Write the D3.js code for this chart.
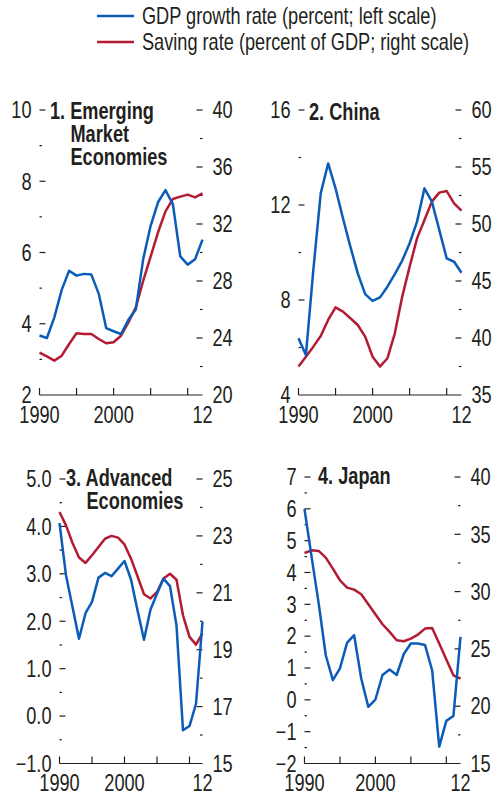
<!DOCTYPE html>
<html>
<head>
<meta charset="utf-8">
<script src="https://cdn.jsdelivr.net/npm/d3@7"></script>
<style>
  body { margin: 0; background: #fff; }
  svg { display: block; font-family: "Liberation Sans", Arial, sans-serif; }
</style>
</head>
<body>
<svg id="chart" width="496" height="799"></svg>
<script>
const years = [1990, 1991, 1992, 1993, 1994, 1995, 1996, 1997, 1998, 1999, 2000, 2001,
  2002, 2003, 2004, 2005, 2006, 2007, 2008, 2009, 2010, 2011, 2012];

// GDP growth (left scale) and saving rate (right scale)
const emGdp = [3.67, 3.60, 4.18, 4.95, 5.49, 5.35, 5.40, 5.38, 4.84, 3.88, 3.79, 3.71,
  4.11, 4.40, 5.82, 6.75, 7.41, 7.75, 7.36, 5.89, 5.66, 5.81, 6.36];
const emSaving = [22.97, 22.71, 22.41, 22.76, 23.58, 24.33, 24.28, 24.28, 23.93, 23.63, 23.70, 24.16,
  25.10, 26.15, 28.02, 29.71, 31.42, 32.89, 33.75, 33.92, 34.06, 33.87, 34.15];

const chinaGdp = [6.39, 5.68, 9.26, 12.49, 13.75, 12.70, 11.44, 10.25, 9.12, 8.25, 7.96, 8.11,
  8.56, 9.09, 9.66, 10.39, 11.30, 12.70, 12.14, 10.95, 9.75, 9.61, 9.15];
const chinaSaving = [37.49, 38.36, 39.24, 40.18, 41.58, 42.69, 42.31, 41.73, 41.14, 40.12, 38.36, 37.49,
  38.22, 40.41, 43.63, 46.26, 48.74, 50.35, 51.96, 52.75, 52.89, 51.81, 51.17];

const advGdp = [4.07, 2.97, 2.30, 1.63, 2.17, 2.41, 2.92, 3.02, 2.95, 3.11, 3.27, 2.88,
  2.23, 1.61, 2.25, 2.58, 2.90, 2.74, 1.91, -0.30, -0.21, 0.26, 1.99];
const advSaving = [23.84, 23.37, 22.75, 22.24, 22.05, 22.32, 22.61, 22.90, 23.00, 22.94, 22.70, 22.20,
  21.58, 20.95, 20.80, 21.03, 21.50, 21.67, 21.46, 20.21, 19.45, 19.18, 19.57];

const japanGdp = [5.99, 4.49, 3.03, 1.40, 0.62, 0.99, 1.79, 2.03, 0.67, -0.22, 0.01, 0.78,
  0.95, 0.78, 1.44, 1.77, 1.77, 1.72, 0.93, -1.47, -0.66, -0.51, 1.98];
const japanSaving = [33.37, 33.60, 33.55, 32.97, 32.01, 30.99, 30.35, 30.17, 29.77, 28.90, 28.02, 27.15,
  26.48, 25.76, 25.67, 25.90, 26.25, 26.77, 26.83, 25.47, 24.07, 22.70, 22.41];

// tick values
const xTicks = [1990, 1995, 2000, 2005, 2010];
const xLabels = [[1990, '1990'], [2000, '2000'], [2012, '12']];

const emLeft = [2, 4, 6, 8, 10], emLeftMinor = [3, 5, 7, 9];
const emRight = [20, 24, 28, 32, 36, 40], emRightMinor = [22, 26, 30, 34, 38];
const chinaLeft = [4, 8, 12, 16], chinaLeftMinor = [6, 10, 14];
const chinaRight = [35, 40, 45, 50, 55, 60], chinaRightMinor = [37.5, 42.5, 47.5, 52.5, 57.5];
const advLeft = [-1, 0, 1, 2, 3, 4, 5], advLeftMinor = [-0.5, 0.5, 1.5, 2.5, 3.5, 4.5];
const advRight = [15, 17, 19, 21, 23, 25], advRightMinor = [16, 18, 20, 22, 24];
const japanLeft = [-2, -1, 0, 1, 2, 3, 4, 5, 6, 7], japanLeftMinor = [-1.5, -0.5, 0.5, 1.5, 2.5, 3.5, 4.5, 5.5, 6.5];
const japanRight = [15, 20, 25, 30, 35, 40], japanRightMinor = [17.5, 22.5, 27.5, 32.5, 37.5];

const legendItems = ['GDP growth rate (percent; left scale)', 'Saving rate (percent of GDP; right scale)'];

const BLUE = '#0b5cb8';
const RED = '#b31b34';
const INK = '#231f20';
const FS = '23px';
const NARROW = 0.79;   // no condensed face installed, so squeeze Liberation Sans

const minus = s => s.replace('-', '\u2013');
const fmtInt = d => minus(d3.format('d')(d));
const fmt1 = d => minus(d3.format('.1f')(d));

// horizontal squeeze around each text's own anchor point
function squeeze(sel) {
  sel.each(function () {
    const t = d3.select(this);
    const x = +t.attr('x'), y = +t.attr('y');
    t.attr('transform', `translate(${x},${y}) scale(${NARROW},1) translate(${-x},${-y})`);
  });
}

const panels = [
  { title: ['1. Emerging', 'Market', 'Economies'], gdp: emGdp, saving: emSaving,
    left: emLeft, leftMinor: emLeftMinor, right: emRight, rightMinor: emRightMinor, fmt: fmtInt,
    x0: 39.5, x1: 202.5, y0: 110, y1: 395, tx: 50, ty: 119 },
  { title: ['2. China'], gdp: chinaGdp, saving: chinaSaving,
    left: chinaLeft, leftMinor: chinaLeftMinor, right: chinaRight, rightMinor: chinaRightMinor, fmt: fmtInt,
    x0: 298.5, x1: 461.5, y0: 110, y1: 395, tx: 309, ty: 120 },
  { title: ['3. Advanced', 'Economies'], gdp: advGdp, saving: advSaving,
    left: advLeft, leftMinor: advLeftMinor, right: advRight, rightMinor: advRightMinor, fmt: fmt1,
    x0: 59.5, x1: 202.5, y0: 479, y1: 763.5, tx: 66, ty: 486 },
  { title: ['4. Japan'], gdp: japanGdp, saving: japanSaving,
    left: japanLeft, leftMinor: japanLeftMinor, right: japanRight, rightMinor: japanRightMinor, fmt: fmtInt,
    x0: 304.5, x1: 460.5, y0: 477, y1: 763.5, tx: 318, ty: 484 }
];

const svg = d3.select('#chart');

// Legend
const legend = svg.append('g');
legendItems.forEach((label, i) => {
  const y = 16 + i * 26;
  legend.append('line')
    .attr('x1', 97).attr('x2', 134).attr('y1', y).attr('y2', y)
    .attr('stroke', i === 0 ? BLUE : RED).attr('stroke-width', 2.5);
  legend.append('text')
    .attr('x', 142).attr('y', y).attr('dy', '0.36em')
    .style('font-size', FS).style('fill', INK)
    .text(label)
    .call(squeeze);
});

panels.forEach(p => {
  const g = svg.append('g');

  const x = d3.scaleLinear().domain([1990, 2012]).range([p.x0, p.x1]);
  const yL = d3.scaleLinear().domain(d3.extent(p.left)).range([p.y1, p.y0]);
  const yR = d3.scaleLinear().domain(d3.extent(p.right)).range([p.y1, p.y0]);

  // bottom axis: baseline with upward ticks
  g.append('line')
    .attr('x1', p.x0).attr('x2', p.x1).attr('y1', p.y1).attr('y2', p.y1)
    .attr('stroke', INK).attr('stroke-width', 1.2);
  g.selectAll('.xtick').data(xTicks).enter().append('line')
    .attr('x1', d => x(d)).attr('x2', d => x(d))
    .attr('y1', p.y1).attr('y2', p.y1 - 7)
    .attr('stroke', INK).attr('stroke-width', 1.2);
  g.selectAll('.xlab').data(xLabels).enter().append('text')
    .attr('x', d => x(d[0])).attr('y', p.y1 + 28)
    .attr('text-anchor', 'middle')
    .style('font-size', FS).style('fill', INK)
    .text(d => d[1])
    .call(squeeze);

  // left scale: ticks drawn inward
  const majorL = p.left.filter(v => v !== yL.domain()[0]);
  g.selectAll('.lt').data(majorL).enter().append('line')
    .attr('x1', p.x0).attr('x2', p.x0 + 6)
    .attr('y1', d => yL(d)).attr('y2', d => yL(d))
    .attr('stroke', INK).attr('stroke-width', 1.2);
  g.selectAll('.lm').data(p.leftMinor).enter().append('line')
    .attr('x1', p.x0).attr('x2', p.x0 + 2.5)
    .attr('y1', d => yL(d)).attr('y2', d => yL(d))
    .attr('stroke', INK).attr('stroke-width', 1.2);
  g.selectAll('.ll').data(p.left).enter().append('text')
    .attr('x', p.x0 - 8).attr('y', d => yL(d)).attr('dy', '0.36em')
    .attr('text-anchor', 'end')
    .style('font-size', FS).style('fill', INK)
    .text(p.fmt)
    .call(squeeze);

  // right scale
  const majorR = p.right.filter(v => v !== yR.domain()[0]);
  g.selectAll('.rt').data(majorR).enter().append('line')
    .attr('x1', p.x1 - 6).attr('x2', p.x1)
    .attr('y1', d => yR(d)).attr('y2', d => yR(d))
    .attr('stroke', INK).attr('stroke-width', 1.2);
  g.selectAll('.rm').data(p.rightMinor).enter().append('line')
    .attr('x1', p.x1 - 2.5).attr('x2', p.x1)
    .attr('y1', d => yR(d)).attr('y2', d => yR(d))
    .attr('stroke', INK).attr('stroke-width', 1.2);
  g.selectAll('.rl').data(p.right).enter().append('text')
    .attr('x', p.x1 + 10).attr('y', d => yR(d)).attr('dy', '0.36em')
    .style('font-size', FS).style('fill', INK)
    .text(d => d3.format('d')(d))
    .call(squeeze);

  // series
  const lineL = d3.line().x((d, i) => x(years[i])).y(d => yL(d));
  const lineR = d3.line().x((d, i) => x(years[i])).y(d => yR(d));

  g.append('path').datum(p.saving)
    .attr('fill', 'none').attr('stroke', RED).attr('stroke-width', 2.5)
    .attr('stroke-linejoin', 'round')
    .attr('d', lineR);
  g.append('path').datum(p.gdp)
    .attr('fill', 'none').attr('stroke', BLUE).attr('stroke-width', 2.5)
    .attr('stroke-linejoin', 'round')
    .attr('d', lineL);

  // title, one text per line so the indent is not squeezed
  p.title.forEach((line, i) => {
    g.append('text')
      .attr('x', i === 0 ? p.tx : p.tx + 20.5)
      .attr('y', p.ty + i * 23)
      .style('font-size', FS).style('font-weight', 'bold').style('fill', INK)
      .text(line)
      .call(squeeze);
  });
});
</script>
</body>
</html>
